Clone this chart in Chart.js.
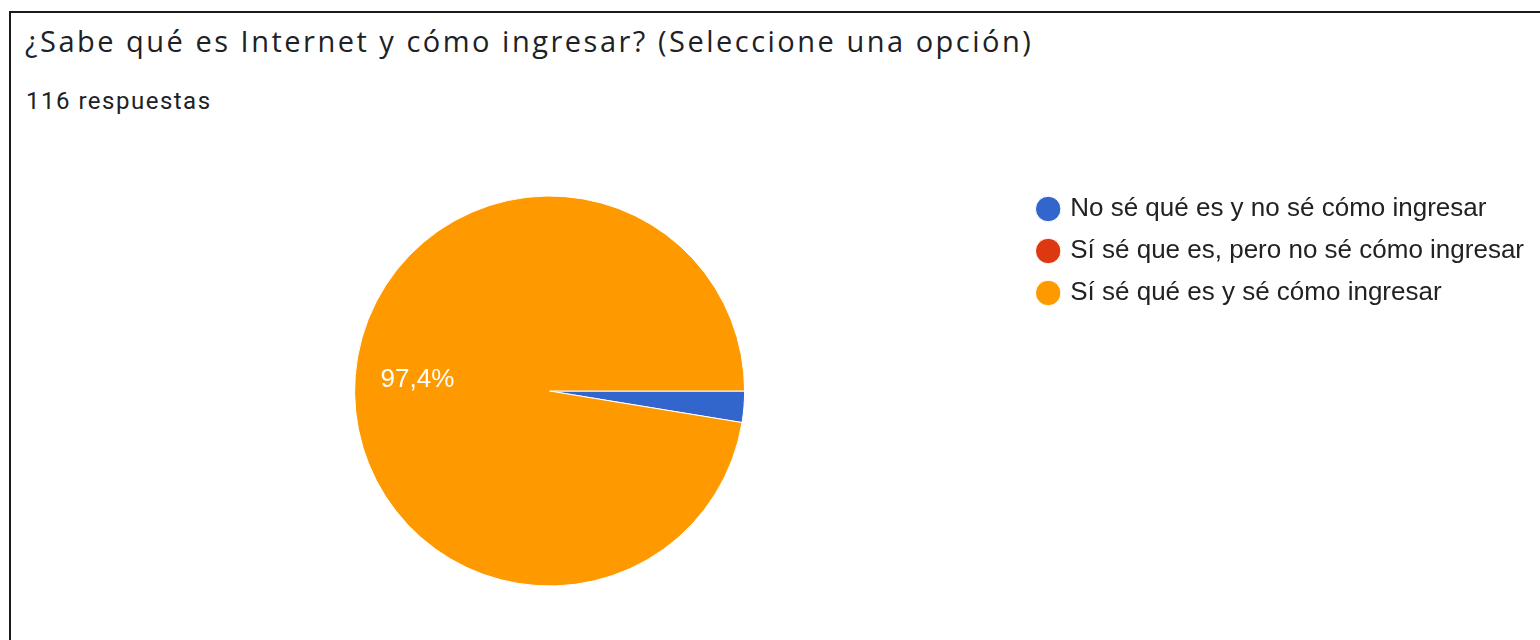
<!DOCTYPE html>
<html>
<head>
<meta charset="utf-8">
<script src="https://cdn.jsdelivr.net/npm/chart.js@4.4.0/dist/chart.umd.min.js"></script>
<style>
  html, body { margin: 0; padding: 0; background: #fff; }
  body { width: 1540px; height: 640px; position: relative; overflow: hidden; }
  #frame { position: absolute; left: 9px; top: 11px; width: 1600px; height: 700px; border: 2px solid #1a1a1a; box-sizing: border-box; }
  #title { position: absolute; left: 25px; top: 21px; font-family: "Open Sans", sans-serif; font-size: 29px; letter-spacing: 2.5px; color: #202124; white-space: nowrap; }
  #subtitle { position: absolute; left: 26px; top: 87px; font-family: Roboto, sans-serif; font-size: 24px; letter-spacing: 1.5px; color: #202124; white-space: nowrap; }
  #wrap { position: absolute; left: 0; top: 130px; width: 1540px; height: 500px; }
</style>
</head>
<body>
<div id="frame"></div>
<div id="title">¿Sabe qué es Internet y cómo ingresar? (Seleccione una opción)</div>
<div id="subtitle">116 respuestas</div>
<div id="wrap"><canvas id="chart"></canvas></div>
<script>
const labels = ['No sé qué es y no sé cómo ingresar', 'Sí sé que es, pero no sé cómo ingresar', 'Sí sé qué es y sé cómo ingresar']
const counts = [3, 0, 113]
const colors = ['#3366cc', '#dc3912', '#ff9900']

// percentage labels inside the big slices, like google forms does
const sliceLabels = {
    id: 'sliceLabels',
    afterDatasetsDraw(chart) {
        const ctx = chart.ctx
        const data = chart.data.datasets[0].data
        const total = data.reduce((a, b) => a + b, 0)
        chart.getDatasetMeta(0).data.forEach((arc, i) => {
            const pct = data[i] / total * 100
            if (pct < 5) return
            const mid = (arc.startAngle + arc.endAngle) / 2
            const r = arc.outerRadius * 0.68
            ctx.save()
            ctx.fillStyle = '#fff'
            ctx.font = '26px "Liberation Sans", Arial, sans-serif'
            ctx.textAlign = 'center'
            ctx.textBaseline = 'middle'
            ctx.fillText(pct.toFixed(1).replace('.', ',') + '%', arc.x + Math.cos(mid) * r, arc.y + Math.sin(mid) * r)
            ctx.restore()
        })
    }
}

const chart = new Chart(document.getElementById('chart'), {
    type: 'pie',
    data: {
        labels: labels,
        datasets: [{
            data: counts,
            backgroundColor: colors,
            borderColor: '#fff',
            borderWidth: 1,
            radius: 195
        }]
    },
    options: {
        responsive: true,
        maintainAspectRatio: false,
        animation: false,
        rotation: 90,
        layout: { padding: { top: 50, bottom: 28, left: 76, right: 6 } },
        plugins: {
            tooltip: { enabled: false },
            legend: {
                position: 'right',
                align: 'start',
                labels: {
                    usePointStyle: true,
                    pointStyle: 'circle',
                    boxWidth: 18,
                    boxHeight: 18,
                    padding: 16,
                    color: '#222',
                    font: { family: '"Liberation Sans", Arial, sans-serif', size: 26 }
                }
            }
        }
    },
    plugins: [sliceLabels]
})
</script>
</body>
</html>
